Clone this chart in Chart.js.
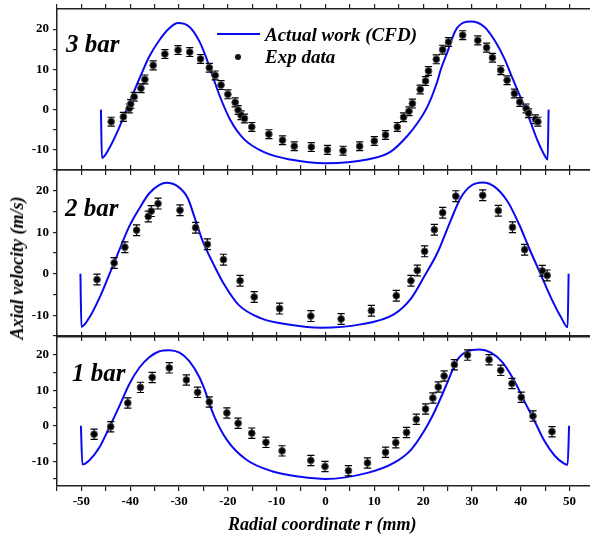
<!DOCTYPE html>
<html>
<head>
<meta charset="utf-8">
<script src="https://cdn.jsdelivr.net/npm/chart.js@4.4.0/dist/chart.umd.min.js"></script>
<style>
html,body{margin:0;padding:0;background:#fff;overflow:hidden;}
#wrap{position:relative;width:590px;height:538px;overflow:hidden;background:#fff;}
#wrap canvas{position:absolute;left:0;}
.txt{position:absolute;font-family:'Liberation Serif','Times New Roman',serif;font-weight:bold;font-style:italic;color:#000;white-space:nowrap;line-height:1;}
.bar{font-size:25px;}
.leg{font-size:19px;}
</style>
</head>
<body>
<div id="wrap">
<canvas id="c3bar" width="599" height="180" style="top:0px"></canvas>
<canvas id="c2bar" width="599" height="186" style="top:160px"></canvas>
<canvas id="c1bar" width="599" height="211" style="top:327px"></canvas>

<div class="txt bar" style="left:66px;top:31px">3 bar</div>
<div class="txt bar" style="left:65px;top:195px">2 bar</div>
<div class="txt bar" style="left:72px;top:360px">1 bar</div>

<div style="position:absolute;left:217px;top:33px;width:43px;height:2px;background:#0a0af0"></div>
<div class="txt leg" style="left:265px;top:25px">Actual work (CFD)</div>
<div style="position:absolute;left:235px;top:54px;width:6px;height:6px;border-radius:50%;background:#111"></div>
<div class="txt leg" style="left:265px;top:47px">Exp data</div>

<div class="txt" style="font-size:18px;left:17px;top:268px;transform:translate(-50%,-50%) rotate(-90deg)">Axial velocity (m/s)</div>
<div class="txt" style="font-size:18px;left:228px;top:515px">Radial coordinate r (mm)</div>
</div>

<script>
Chart.defaults.font.family = "'Liberation Serif','Times New Roman',serif";
Chart.defaults.font.size = 13;
Chart.defaults.font.weight = 'bold';
Chart.defaults.color = '#000';

// shared ticks
var xTicks = [-55,-50,-45,-40,-35,-30,-25,-20,-15,-10,-5,0,5,10,15,20,25,30,35,40,45,50,55];
var yTicks = [-15,-10,-5,0,5,10,15,20];

// 3 bar
var cfdR3 = [-46.0,-45.8,-44.3,-42.6,-41.2,-39.5,-37.8,-36.1,-34.0,-32.0,-30.2,-27.9,-25.8,-24.4,-23.6,-21.6,-19.5,-16.8,-12.7,-7.2,0,8.6,13.3,16.8,18.8,20.9,22.9,23.6,25.0,26.7,29.8,32.5,34.6,36.6,38.3,40.0,41.7,43.5,44.8,45.5,45.7];
var cfdV3 = [0,-12.0,-9.6,-5.4,-1.3,3.7,8.6,13.2,17.3,20.2,21.5,20.6,16.9,12.8,10.0,3.2,-2.6,-7.2,-10.5,-12.4,-13.3,-12.4,-10.5,-6.5,-3.4,0.8,7.0,9.9,14.4,19.8,21.9,20.6,17.3,12.8,7.8,2.9,-2.1,-7.9,-11.2,-12.4,0];
var expR3 = [-43.9,-41.4,-40.2,-39.9,-39.2,-37.8,-37.0,-35.3,-32.9,-30.2,-27.8,-25.6,-23.8,-22.6,-21.4,-20.0,-18.5,-17.9,-17.3,-16.6,-15.1,-11.6,-8.8,-6.4,-2.9,0.4,3.6,7.0,10.0,12.3,14.7,16.0,17.1,17.8,19.4,20.5,21.1,22.7,24.0,25.2,28.1,31.2,33.0,34.2,35.9,37.2,38.7,39.8,41.1,41.6,43.0,43.5];
var expV3 = [-3.0,-1.8,0.3,1.4,3.2,5.3,7.5,11.0,13.8,14.8,14.3,12.6,10.4,8.5,6.1,3.8,1.8,-0.1,-1.4,-2.2,-4.3,-6.1,-7.6,-9.1,-9.3,-10.0,-10.2,-9.1,-7.8,-6.3,-4.3,-1.9,-0.4,1.5,5.0,7.1,9.6,12.5,14.9,16.8,18.5,17.2,15.4,12.9,9.8,7.3,4.0,1.9,0.3,-0.9,-2.4,-3.0];
var err3 = 1.1;

// 2 bar
var cfdR2 = [-50.2,-50.0,-48.4,-46.3,-44.3,-42.2,-40.2,-38.1,-36.1,-34.0,-32.6,-30.2,-28.2,-26.8,-25.2,-22.9,-20.9,-17.8,-13.3,-7.2,-1,7.2,14.0,17.5,20.3,22.9,25.7,27.7,29.8,32.2,34.6,37.3,39.7,41.7,44.1,46.2,48.3,49.6,49.8];
var cfdV2 = [0,-12.8,-10.6,-5.8,-0.2,5.8,11.4,15.8,19.4,21.4,21.9,21.0,18.2,13.5,8.0,2.2,-2.3,-7.5,-10.7,-12.3,-13.0,-12.2,-9.8,-6.0,-0.5,5.0,13.0,18.3,21.2,22.0,21.0,17.4,11.8,6.2,-0.2,-5.8,-10.6,-12.9,0];
var expR2 = [-46.8,-43.3,-41.1,-38.7,-36.3,-35.7,-34.3,-29.8,-26.6,-24.2,-20.9,-17.5,-14.6,-9.4,-3.0,3.2,9.4,14.5,17.5,18.8,20.3,22.3,24.0,26.7,32.2,35.4,38.3,40.8,44.4,45.4];
var expV2 = [-1.4,2.6,6.4,10.5,13.8,15.1,16.9,15.3,11.1,7.1,3.4,-1.7,-5.6,-8.4,-10.2,-10.9,-8.9,-5.3,-1.7,0.8,5.4,10.6,14.7,18.7,18.9,15.2,11.2,5.8,0.7,-0.4];
var err2 = 1.3;

// 1 bar
var cfdR1 = [-50.1,-49.8,-48.4,-46.3,-44.3,-42.2,-40.2,-38.1,-36.1,-34.0,-32.0,-29.9,-27.9,-25.8,-24.8,-22.9,-20.2,-16.2,-10.8,-5.1,0,8.6,14.0,17.5,20.2,22.0,23.6,25.0,27.0,29.1,31.5,33.9,36.3,38.7,40.7,42.8,44.8,46.9,48.9,49.6,49.9];
var cfdV1 = [0,-10.9,-9.8,-6.1,-0.5,5.6,11.7,16.4,19.3,21.0,21.3,20.6,18.2,13.6,10.3,3.0,-4.0,-9.6,-12.9,-14.4,-15.0,-13.3,-10.5,-6.8,-1.5,3.0,7.8,12.3,18.5,21.0,21.5,20.6,17.8,12.6,7.0,1.4,-4.2,-8.4,-10.7,-11.0,0];
var expR1 = [-47.4,-44.0,-40.5,-37.9,-35.5,-32.0,-28.5,-26.2,-23.8,-20.2,-17.9,-15.1,-12.2,-8.9,-3.0,-0.1,4.7,8.6,12.3,14.4,16.6,18.6,20.5,22.0,23.1,24.3,26.4,29.1,33.5,35.9,38.2,40.1,42.5,46.4];
var expV1 = [-2.4,-0.3,6.4,10.8,13.6,16.3,12.9,9.4,6.7,3.6,0.7,-2.1,-4.7,-7.1,-9.8,-11.5,-12.7,-10.5,-7.5,-4.8,-1.9,1.8,4.7,7.8,10.9,14.0,17.2,19.9,18.6,15.6,11.9,8.0,2.7,-1.7];
var err1 = 1.45;

var toPoints = function(xs, ys){
    var pts = [];
    for(var i=0;i<xs.length;i++){
        pts.push({x:xs[i], y:ys[i]});
    }
    return pts;
};

// vertical error bars under the exp markers
var errorBars = {
    id: 'errorBars',
    afterDatasetDraw: function(chart, args, opts){
        if(args.index !== 1) return;
        var pts = chart.data.datasets[0].data;
        var ctx = chart.ctx, sx = chart.scales.x, sy = chart.scales.y;
        ctx.save();
        ctx.strokeStyle = '#000';
        ctx.lineWidth = 1.2;
        for(var i=0;i<pts.length;i++){
            var px = sx.getPixelForValue(pts[i].x);
            var top = sy.getPixelForValue(pts[i].y + opts.err);
            var bot = sy.getPixelForValue(pts[i].y - opts.err);
            ctx.beginPath();
            ctx.moveTo(px, top); ctx.lineTo(px, bot);
            ctx.moveTo(px-3.6, top); ctx.lineTo(px+3.6, top);
            ctx.moveTo(px-3.6, bot); ctx.lineTo(px+3.6, bot);
            ctx.stroke();
        }
        ctx.restore();
    }
};

var axisColor = '#222';

var xAxis = function(pos, h, labels){
    return {
        type: 'linear', position: pos, min: -55, max: 55,
        afterBuildTicks: function(s){ s.ticks = xTicks.map(function(v){ return {value:v}; }); },
        afterFit: function(s){ s.height = h; s.paddingLeft = 0; s.paddingRight = 0; },
        ticks: {display: labels, autoSkip: false, maxRotation: 0, padding: 3,
            callback: function(v){ return v % 10 === 0 ? String(v) : ''; }},
        grid: {drawOnChartArea: false, drawTicks: true, tickLength: 5, color: axisColor, lineWidth: 1.2},
        border: {display: true, color: axisColor, width: 1.5}
    };
};

var makePanel = function(id, cfdR, cfdV, expR, expV, err, yMin, yMax, topH, bottomH, xLabels){
    var ctx = document.getElementById(id).getContext('2d');
    new Chart(ctx, {
        type: 'scatter',
        data: {
            datasets: [{
                label: 'Exp data',
                data: toPoints(expR, expV),
                pointRadius: 3.4,
                pointBackgroundColor: '#000',
                pointBorderColor: '#555',
                pointBorderWidth: 1,
                showLine: false
            },{
                label: 'Actual work (CFD)',
                data: toPoints(cfdR, cfdV),
                showLine: true,
                pointRadius: 0,
                borderColor: '#0a0af0',
                borderWidth: 2,
                cubicInterpolationMode: 'monotone',
                fill: false
            }]
        },
        options: {
            responsive: false,
            animation: false,
            events: [],
            layout: {padding: 0},
            plugins: {
                legend: {display: false},
                tooltip: {enabled: false},
                errorBars: {err: err}
            },
            scales: {
                x: xAxis('bottom', bottomH, xLabels),
                x2: xAxis('top', topH, false),
                y: {
                    type: 'linear', position: 'left', min: yMin, max: yMax,
                    afterBuildTicks: function(s){ s.ticks = yTicks.map(function(v){ return {value:v}; }); },
                    afterFit: function(s){ s.width = 57; s.paddingTop = 0; s.paddingBottom = 0; },
                    ticks: {autoSkip: false, padding: 4,
                        callback: function(v){ return v % 10 === 0 ? String(v) : ''; }},
                    grid: {drawOnChartArea: false, drawTicks: true, tickLength: 4, color: axisColor, lineWidth: 1.2},
                    border: {display: true, color: axisColor, width: 1.5}
                }
            }
        },
        plugins: [errorBars]
    });
};

makePanel('c3bar', cfdR3, cfdV3, expR3, expV3, err3, -15, 25, 9, 10, false);
makePanel('c2bar', cfdR2, cfdV2, expR2, expV2, err2, -15, 25, 10, 10, false);
makePanel('c1bar', cfdR1, cfdV1, expR1, expV1, err1, -17, 25, 10, 52, true);
</script>
</body>
</html>
